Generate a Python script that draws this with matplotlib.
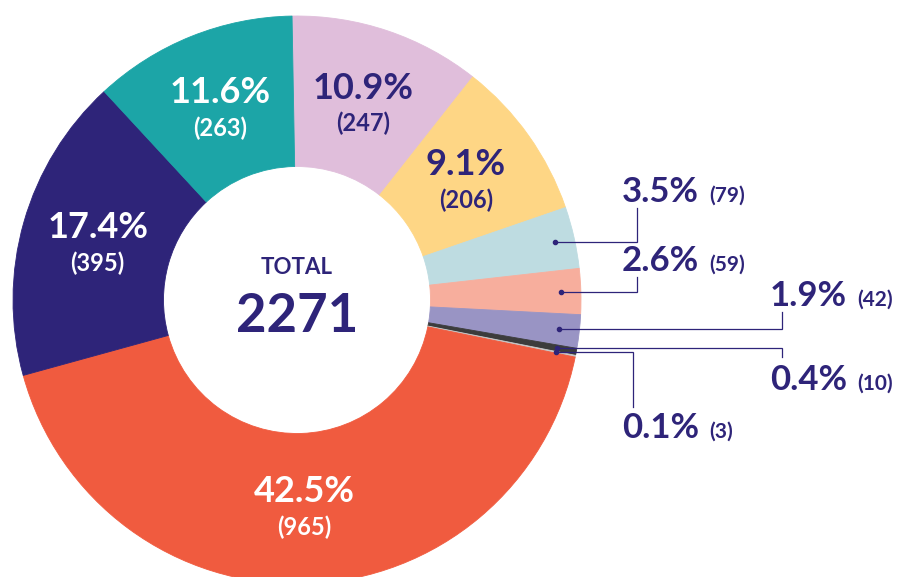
import numpy as np
import matplotlib; matplotlib.use('Agg'); import matplotlib.pyplot as plt

# slice data, clockwise from 12 o'clock
names = ['pink', 'yellow', 'lightblue', 'salmon', 'lavender', 'darkgrey', 'lightgrey', 'orange', 'navy', 'teal']
pcts = [10.9, 9.1, 3.5, 2.6, 1.9, 0.4, 0.1, 42.5, 17.4, 11.6]
counts = [247, 206, 79, 59, 42, 10, 3, 965, 395, 263]
colors = ['#E0BEDB', '#FED685', '#BEDCE1', '#F7AE9D', '#9994C4', '#3C3C3C', '#C9CACA', '#F05B3F', '#2E2479', '#1CA5A7']
total = 2271
NAVY = '#2E2479'
plt.rcParams['font.family'] = ['Lato', 'DejaVu Sans']

W, H = 907, 577
fig = plt.figure(figsize=(W / 100, H / 100), dpi=100)
ax = fig.add_axes([0, 0, 1, 1])
cx, cy, R, r_in = 297, H - 300, 284, 133.5
wedges, _ = ax.pie(pcts, colors=colors, startangle=91, counterclock=False, center=(cx, cy), radius=R,
                   wedgeprops=dict(width=R - r_in, linewidth=0.6), frame=True)
for w in wedges: w.set_edgecolor(w.get_facecolor())
ax.set_xlim(0, W); ax.set_ylim(0, H); ax.set_aspect('equal'); ax.axis('off')

def mid(w): return np.deg2rad((w.theta1 + w.theta2) / 2)

# labels inside the big slices
inside = {'orange': 'white', 'navy': 'white', 'teal': 'white', 'pink': NAVY, 'yellow': NAVY}
for w, n, p, c in zip(wedges, names, pcts, counts):
    if n not in inside: continue
    a = mid(w); x, y = cx + 0.73 * R * np.cos(a), cy + 0.73 * R * np.sin(a)
    ax.text(x, y + 5, f'{p}%', ha='center', va='baseline', fontsize=26, fontweight='bold', color=inside[n])
    ax.text(x, y - 28, f'({c})', ha='center', va='baseline', fontsize=17, fontweight='bold', color=inside[n])

# small slices: dot, elbow leader, label (text x, text baseline, elbow x, line end y) in image px
outside = {'lightblue': (622, 202, 637, 208), 'salmon': (622, 271, 637, 277), 'lavender': (770, 306, 782, 312),
           'darkgrey': (770, 390, 782, 357), 'lightgrey': (622, 438, 633, 407)}
fig.canvas.draw(); rend = fig.canvas.get_renderer()
for w, n, p, c in zip(wedges, names, pcts, counts):
    if n not in outside: continue
    tx, tb, ex, ey = outside[n]
    a = mid(w); dx, dy = cx + 0.93 * R * np.cos(a), cy + 0.93 * R * np.sin(a)
    ax.plot([dx, ex, ex], [dy, dy, H - ey], color=NAVY, lw=0.9, solid_joinstyle='miter')
    ax.plot(dx, dy, 'o', color=NAVY, ms=3)
    t = ax.text(tx, H - tb, f'{p}%', ha='left', va='baseline', fontsize=25, fontweight='bold', color=NAVY)
    bb = t.get_window_extent(rend)
    ax.text(bb.x1 + 10, H - tb, f'({c})', ha='left', va='baseline', fontsize=15, fontweight='bold', color=NAVY)

# centre total
ax.text(cx, H - 274, 'TOTAL', ha='center', va='baseline', fontsize=16, fontweight='bold', color=NAVY)
ax.text(cx, H - 332, f'{total}', ha='center', va='baseline', fontsize=38, fontweight='bold', color=NAVY)

fig.savefig('out.png', dpi=100, facecolor='white')
